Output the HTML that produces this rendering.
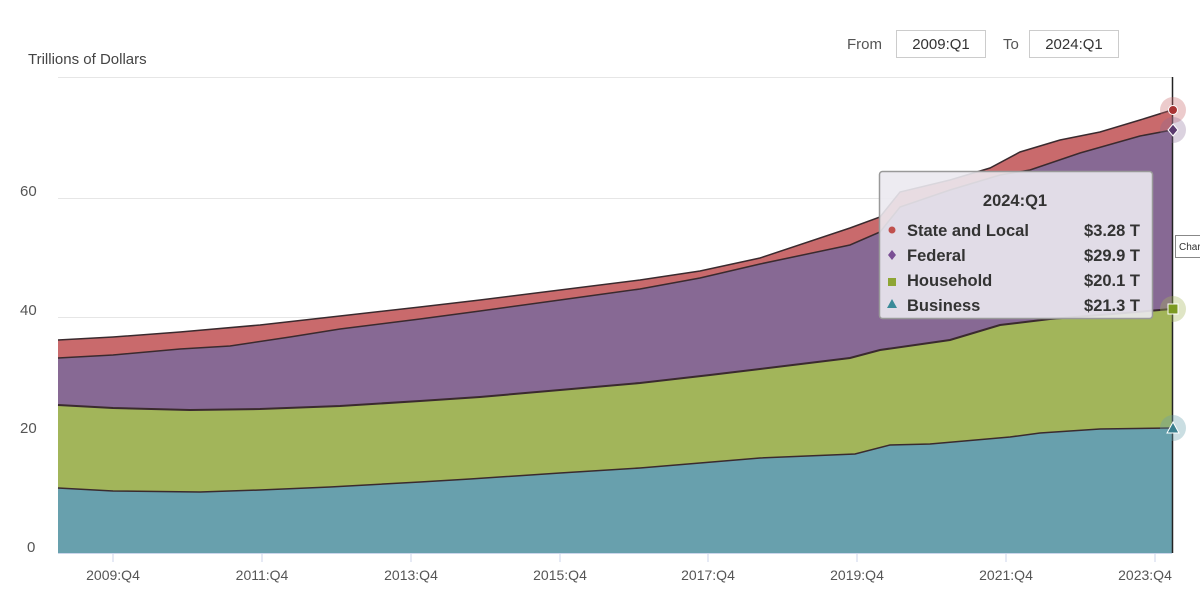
<!DOCTYPE html>
<html><head><meta charset="utf-8"><style>
body{margin:0;background:#fff;width:1200px;height:595px;overflow:hidden;font-family:"Liberation Sans",sans-serif;}
</style></head><body>
<svg width="1200" height="595" viewBox="0 0 1200 595" xmlns="http://www.w3.org/2000/svg" font-family="Liberation Sans, sans-serif">
<text x="28" y="64" font-size="15" fill="#444">Trillions of Dollars</text>
<text x="847" y="49" font-size="15" fill="#555">From</text>
<rect x="896.5" y="30.5" width="89" height="27" fill="#fff" stroke="#ccc"/>
<text x="941" y="49" font-size="15" fill="#333" text-anchor="middle">2009:Q1</text>
<text x="1003" y="49" font-size="15" fill="#555">To</text>
<rect x="1029.5" y="30.5" width="89" height="27" fill="#fff" stroke="#ccc"/>
<text x="1074" y="49" font-size="15" fill="#333" text-anchor="middle">2024:Q1</text>
<g stroke="#e6e6e6" stroke-width="1">
<line x1="58" y1="77.5" x2="1172" y2="77.5"/>
<line x1="58" y1="198.5" x2="1172" y2="198.5"/>
<line x1="58" y1="317.5" x2="1172" y2="317.5"/>
<line x1="58" y1="435.5" x2="1172" y2="435.5"/>
</g>
<g font-size="15" fill="#555">
<text x="20" y="196">60</text><text x="20" y="315">40</text><text x="20" y="433">20</text><text x="27" y="552">0</text>
</g>
<polygon fill="#c96a6c" points="58,340 113,337 180,332 260,325 340,316 420,307 480,300 560,290 640,280 700,271 760,258 850,228 880,217 900,192 950,180 990,168 1020,152 1060,140 1100,132 1140,120 1172,110 1172,553 58,553"/>
<polygon fill="#876994" points="58,358 113,355 180,349 230,346 290,337 340,329 420,319 480,311 560,300 640,289 700,278 760,264 850,245 880,232 900,207 950,190 1000,175 1030,170 1080,153 1140,136 1172,130 1172,553 58,553"/>
<polygon fill="#a2b55a" points="58,405 113,408 190,410 260,409 340,406 420,401 480,397 560,390 640,383 710,375 760,369 850,358 880,350 950,340 1000,325 1050,319 1100,315 1172,309 1172,553 58,553"/>
<polygon fill="#68a0ad" points="58,488 113,491 200,492 260,490 330,487 420,482 470,479 560,473 640,468 700,463 760,458 855,454 890,445 930,444 1010,437 1040,433 1100,429 1172,428 1172,553 58,553"/>
<g fill="none" stroke="#3a2a2e" stroke-width="1.5">
<polyline points="58,340 113,337 180,332 260,325 340,316 420,307 480,300 560,290 640,280 700,271 760,258 850,228 880,217 900,192 950,180 990,168 1020,152 1060,140 1100,132 1140,120 1172,110"/>
<polyline points="58,358 113,355 180,349 230,346 290,337 340,329 420,319 480,311 560,300 640,289 700,278 760,264 850,245 880,232 900,207 950,190 1000,175 1030,170 1080,153 1140,136 1172,130"/>
<polyline stroke-width="2" points="58,405 113,408 190,410 260,409 340,406 420,401 480,397 560,390 640,383 710,375 760,369 850,358 880,350 950,340 1000,325 1050,319 1100,315 1172,309"/>
<polyline points="58,488 113,491 200,492 260,490 330,487 420,482 470,479 560,473 640,468 700,463 760,458 855,454 890,445 930,444 1010,437 1040,433 1100,429 1172,428"/>
</g>
<line x1="58" y1="553.5" x2="1172" y2="553.5" stroke="#ccd6eb"/>
<g stroke="#ccd6eb"><line x1="113" y1="553" x2="113" y2="562"/><line x1="262" y1="553" x2="262" y2="562"/><line x1="411" y1="553" x2="411" y2="562"/><line x1="560" y1="553" x2="560" y2="562"/><line x1="708" y1="553" x2="708" y2="562"/><line x1="857" y1="553" x2="857" y2="562"/><line x1="1006" y1="553" x2="1006" y2="562"/><line x1="1155" y1="553" x2="1155" y2="562"/></g>
<g font-size="14" fill="#555" text-anchor="middle">
<text x="113" y="580">2009:Q4</text><text x="262" y="580">2011:Q4</text><text x="411" y="580">2013:Q4</text><text x="560" y="580">2015:Q4</text><text x="708" y="580">2017:Q4</text><text x="857" y="580">2019:Q4</text><text x="1006" y="580">2021:Q4</text><text x="1145" y="580">2023:Q4</text>
</g>
<line x1="1172.5" y1="77" x2="1172.5" y2="553" stroke="#222" stroke-width="1.5"/>
<circle cx="1173" cy="110" r="13" fill="#c96a6c" opacity="0.35"/><circle cx="1173" cy="110" r="4.5" fill="#a83434" stroke="#fff"/>
<circle cx="1173" cy="130" r="13" fill="#876994" opacity="0.3"/><path d="M1173,124 L1178,130 L1173,136 L1168,130Z" fill="#5a3a6e" stroke="#fff"/>
<circle cx="1173" cy="309" r="13" fill="#a2b55a" opacity="0.35"/><rect x="1168" y="304" width="10" height="10" fill="#7c9a22" stroke="#fff"/>
<circle cx="1173" cy="428" r="13" fill="#68a0ad" opacity="0.35"/><path d="M1173,422 L1179,433 L1167,433Z" fill="#3a7f8e" stroke="#fff"/>
<rect x="879.5" y="171.5" width="273" height="147" rx="3" fill="#ebe9ef" fill-opacity="0.9" stroke="#999" stroke-width="1.5"/>
<text x="1015" y="206" font-size="16.5" font-weight="bold" fill="#333" text-anchor="middle">2024:Q1</text>
<g font-size="16.5" font-weight="bold" fill="#333">
<circle cx="892" cy="230" r="3.5" fill="#c0504d"/><text x="907" y="236">State and Local</text><text x="1140" y="236" text-anchor="end">$3.28 T</text>
<path d="M892,250 L896,255 L892,260 L888,255Z" fill="#7a4f94"/><text x="907" y="261">Federal</text><text x="1140" y="261" text-anchor="end">$29.9 T</text>
<rect x="888" y="278" width="8" height="8" fill="#8ea534"/><text x="907" y="286">Household</text><text x="1140" y="286" text-anchor="end">$20.1 T</text>
<path d="M892,299 L897,308 L887,308Z" fill="#3a8a98"/><text x="907" y="311">Business</text><text x="1140" y="311" text-anchor="end">$21.3 T</text>
</g>
<rect x="1175.5" y="235.5" width="30" height="22" fill="#fff" stroke="#888"/>
<text x="1179" y="250" font-size="10" fill="#333">Char</text>
</svg>
</body></html>
